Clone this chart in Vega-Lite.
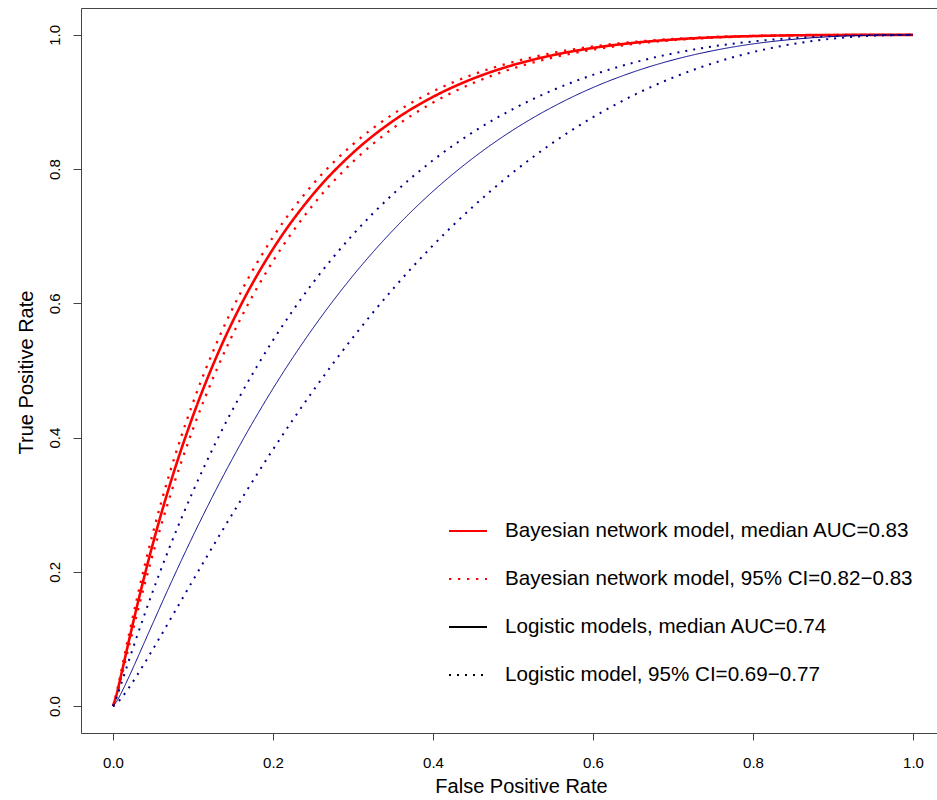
{
  "$schema": "https://vega.github.io/schema/vega-lite/v6.json",
  "width": 856,
  "height": 725,
  "autosize": {"type": "none"},
  "padding": {"left": 81, "top": 8, "right": 0, "bottom": 67},
  "background": "white",
  "config": {
    "view": {"stroke": null},
    "font": "Liberation Sans",
    "axis": {
      "grid": false,
      "domainColor": "#444",
      "tickColor": "#444",
      "labelColor": "#000",
      "titleColor": "#000",
      "titleFontWeight": "normal",
      "labelFlush": false,
      "labelOverlap": false,
      "labelBound": false
    }
  },
  "datasets": {
    "roc": [
      {"fpr": 0, "A": 0, "B1": 0, "B2": 0, "C": 0, "D1": 0, "D2": 0},
      {"fpr": 0.005, "A": 0.0200, "B1": 0.0226, "B2": 0.0177, "C": 0.0079, "D1": 0.0148, "D2": 0.0045},
      {"fpr": 0.01, "A": 0.0455, "B1": 0.0505, "B2": 0.0409, "C": 0.0189, "D1": 0.0324, "D2": 0.0113},
      {"fpr": 0.02, "A": 0.0980, "B1": 0.1069, "B2": 0.0896, "C": 0.0438, "D1": 0.0685, "D2": 0.0276},
      {"fpr": 0.03, "A": 0.1487, "B1": 0.1606, "B2": 0.1374, "C": 0.0702, "D1": 0.1041, "D2": 0.0458},
      {"fpr": 0.04, "A": 0.1971, "B1": 0.2113, "B2": 0.1835, "C": 0.0971, "D1": 0.1385, "D2": 0.0651},
      {"fpr": 0.05, "A": 0.2426, "B1": 0.2585, "B2": 0.2272, "C": 0.1240, "D1": 0.1717, "D2": 0.0850},
      {"fpr": 0.07, "A": 0.3256, "B1": 0.3438, "B2": 0.3078, "C": 0.1772, "D1": 0.2345, "D2": 0.1259},
      {"fpr": 0.1, "A": 0.4325, "B1": 0.4522, "B2": 0.4129, "C": 0.2536, "D1": 0.3200, "D2": 0.1876},
      {"fpr": 0.13, "A": 0.5223, "B1": 0.5422, "B2": 0.5024, "C": 0.3252, "D1": 0.3964, "D2": 0.2483},
      {"fpr": 0.16, "A": 0.5979, "B1": 0.6171, "B2": 0.5785, "C": 0.3918, "D1": 0.4647, "D2": 0.3072},
      {"fpr": 0.2, "A": 0.6810, "B1": 0.6987, "B2": 0.6629, "C": 0.4731, "D1": 0.5450, "D2": 0.3823},
      {"fpr": 0.25, "A": 0.7624, "B1": 0.7776, "B2": 0.7467, "C": 0.5630, "D1": 0.6307, "D2": 0.4695},
      {"fpr": 0.3, "A": 0.8243, "B1": 0.8369, "B2": 0.8111, "C": 0.6413, "D1": 0.7026, "D2": 0.5493},
      {"fpr": 0.35, "A": 0.8717, "B1": 0.8819, "B2": 0.8609, "C": 0.7089, "D1": 0.7628, "D2": 0.6216},
      {"fpr": 0.4, "A": 0.9076, "B1": 0.9157, "B2": 0.8991, "C": 0.7670, "D1": 0.8132, "D2": 0.6864},
      {"fpr": 0.45, "A": 0.9348, "B1": 0.9409, "B2": 0.9281, "C": 0.8164, "D1": 0.8550, "D2": 0.7441},
      {"fpr": 0.5, "A": 0.9550, "B1": 0.9595, "B2": 0.9500, "C": 0.8582, "D1": 0.8895, "D2": 0.7950},
      {"fpr": 0.55, "A": 0.9698, "B1": 0.9731, "B2": 0.9662, "C": 0.8929, "D1": 0.9177, "D2": 0.8394},
      {"fpr": 0.6, "A": 0.9805, "B1": 0.9827, "B2": 0.9780, "C": 0.9215, "D1": 0.9404, "D2": 0.8774},
      {"fpr": 0.65, "A": 0.9880, "B1": 0.9894, "B2": 0.9863, "C": 0.9445, "D1": 0.9584, "D2": 0.9096},
      {"fpr": 0.7, "A": 0.9930, "B1": 0.9939, "B2": 0.9920, "C": 0.9626, "D1": 0.9723, "D2": 0.9363},
      {"fpr": 0.75, "A": 0.9963, "B1": 0.9968, "B2": 0.9957, "C": 0.9764, "D1": 0.9828, "D2": 0.9577},
      {"fpr": 0.8, "A": 0.9982, "B1": 0.9985, "B2": 0.9979, "C": 0.9865, "D1": 0.9902, "D2": 0.9743},
      {"fpr": 0.85, "A": 0.9993, "B1": 0.9994, "B2": 0.9992, "C": 0.9933, "D1": 0.9952, "D2": 0.9864},
      {"fpr": 0.9, "A": 0.9998, "B1": 0.9998, "B2": 0.9998, "C": 0.9975, "D1": 0.9982, "D2": 0.9944},
      {"fpr": 0.95, "A": 1, "B1": 1, "B2": 1, "C": 0.9995, "D1": 0.9997, "D2": 0.9987},
      {"fpr": 1, "A": 1, "B1": 1, "B2": 1, "C": 1, "D1": 1, "D2": 1}
    ],
    "curves": [
      {"curve": "A", "series": "A"},
      {"curve": "B1", "series": "B"},
      {"curve": "B2", "series": "B"},
      {"curve": "C", "series": "C"},
      {"curve": "D1", "series": "D"},
      {"curve": "D2", "series": "D"}
    ]
  },
  "data": {"name": "roc"},
  "transform": [
    {"fold": ["A", "B1", "B2", "C", "D1", "D2"], "as": ["curve", "tpr"]},
    {"lookup": "curve", "from": {"data": {"name": "curves"}, "key": "curve", "fields": ["series"]}}
  ],
  "layer": [
    {
      "mark": {"type": "line", "interpolate": "monotone", "strokeCap": "butt"},
      "encoding": {
        "x": {
          "field": "fpr", "type": "quantitative",
          "scale": {"domain": [-0.04, 1.03], "nice": false, "zero": false},
          "axis": {
            "orient": "bottom",
            "values": [0, 0.2, 0.4, 0.6, 0.8, 1.0],
            "format": ".1f",
            "tickSize": 7,
            "labelFontSize": 15,
            "labelPadding": 15,
            "title": "False Positive Rate",
            "titleFontSize": 20,
            "titleX": 440,
            "titleY": 59,
            "titleAlign": "center",
            "titleBaseline": "alphabetic"
          }
        },
        "y": {
          "field": "tpr", "type": "quantitative",
          "scale": {"domain": [-0.04, 1.04], "nice": false, "zero": false},
          "axis": {
            "orient": "left",
            "values": [0, 0.2, 0.4, 0.6, 0.8, 1.0],
            "format": ".1f",
            "tickSize": 8,
            "labelFontSize": 15,
            "labelAngle": -90,
            "labelAlign": "center",
            "labelBaseline": "bottom",
            "labelPadding": 11,
            "title": "True Positive Rate",
            "titleFontSize": 20,
            "titleAngle": -90,
            "titleX": -49,
            "titleY": 364,
            "titleAlign": "center",
            "titleBaseline": "alphabetic"
          }
        },
        "detail": {"field": "curve"},
        "stroke": {
          "field": "series", "type": "nominal",
          "scale": {"domain": ["A", "B", "C", "D"], "range": ["#FF0000", "#FF0000", "#00008B", "#00008B"]},
          "legend": null
        },
        "strokeDash": {
          "field": "series", "type": "nominal",
          "scale": {"domain": ["A", "B", "C", "D"], "range": [[1, 0], [2.3, 6.7], [1, 0], [2, 6]]},
          "legend": null
        },
        "strokeWidth": {
          "condition": [
            {"test": "datum.series == 'A'", "value": 2.6},
            {"test": "datum.series == 'B'", "value": 2.3},
            {"test": "datum.series == 'C'", "value": 1}
          ],
          "value": 2
        }
      }
    },
    {
      "mark": {"type": "line", "opacity": 0},
      "encoding": {
        "x": {
          "field": "fpr", "type": "quantitative",
          "scale": {"domain": [-0.04, 1.03], "nice": false, "zero": false},
          "axis": {"orient": "top", "labels": false, "ticks": false, "domain": true, "title": null}
        },
        "y": {
          "field": "tpr", "type": "quantitative",
          "scale": {"domain": [-0.04, 1.04], "nice": false, "zero": false},
          "axis": null
        },
        "detail": {"field": "curve"},
        "stroke": {
          "field": "series", "type": "nominal",
          "scale": {"domain": ["A", "B", "C", "D"], "range": ["#FF0000", "#FF0000", "#000000", "#000000"]},
          "legend": {
            "orient": "none",
            "legendX": 367,
            "legendY": 503,
            "title": null,
            "padding": 0,
            "symbolType": "stroke",
            "symbolSize": 1444,
            "symbolStrokeWidth": 2,
            "symbolOpacity": 1,
            "labelFontSize": 20.6,
            "labelColor": "#000",
            "labelOffset": 17,
            "labelLimit": 2000,
            "rowPadding": 17,
            "labelExpr": "datum.value == 'A' ? 'Bayesian network model, median AUC=0.83' : datum.value == 'B' ? 'Bayesian network model, 95% CI=0.82−0.83' : datum.value == 'C' ? 'Logistic models, median AUC=0.74' : 'Logistic model, 95% CI=0.69−0.77'"
          }
        },
        "strokeDash": {
          "field": "series", "type": "nominal",
          "scale": {"domain": ["A", "B", "C", "D"], "range": [[1, 0], [2.3, 6.7], [1, 0], [2, 6]]},
          "legend": {
            "orient": "none",
            "legendX": 367,
            "legendY": 503,
            "title": null,
            "padding": 0,
            "symbolType": "stroke",
            "symbolSize": 1444,
            "symbolStrokeWidth": 2,
            "symbolOpacity": 1,
            "labelFontSize": 20.6,
            "labelColor": "#000",
            "labelOffset": 17,
            "labelLimit": 2000,
            "rowPadding": 17,
            "labelExpr": "datum.value == 'A' ? 'Bayesian network model, median AUC=0.83' : datum.value == 'B' ? 'Bayesian network model, 95% CI=0.82−0.83' : datum.value == 'C' ? 'Logistic models, median AUC=0.74' : 'Logistic model, 95% CI=0.69−0.77'"
          }
        }
      }
    }
  ],
  "resolve": {
    "axis": {"x": "independent", "y": "independent"},
    "scale": {"stroke": "independent", "strokeDash": "independent"},
    "legend": {"stroke": "independent", "strokeDash": "independent"}
  }
}
